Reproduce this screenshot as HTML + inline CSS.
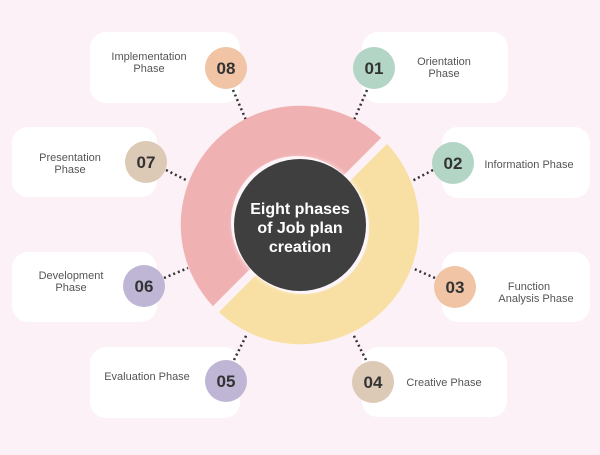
<!DOCTYPE html>
<html><head><meta charset="utf-8"><style>
body{margin:0;width:600px;height:450px;background:#fcf1f6;overflow:hidden;font-family:"Liberation Sans",sans-serif;}
</style></head><body>
<svg width="600" height="450" viewBox="0 0 600 450" xmlns="http://www.w3.org/2000/svg">
<defs><filter id="sh" x="-20%" y="-20%" width="140%" height="140%"><feGaussianBlur stdDeviation="2"/></filter></defs>
<g fill="#ffffff">
<rect x="90" y="32" width="150" height="71" rx="16"/>
<rect x="12" y="127" width="145" height="70" rx="16"/>
<rect x="12" y="252" width="145" height="70" rx="16"/>
<rect x="90" y="347" width="150" height="71" rx="16"/>
<rect x="362" y="32" width="146" height="71" rx="16"/>
<rect x="442" y="127" width="148" height="71" rx="16"/>
<rect x="442" y="252" width="148" height="70" rx="16"/>
<rect x="362" y="347" width="145" height="70" rx="16"/>
</g>
<g stroke="#333" stroke-width="2.5" stroke-dasharray="2 3" fill="none">
<line x1="233" y1="90" x2="246" y2="120"/>
<line x1="367" y1="90" x2="354" y2="120"/>
<line x1="166" y1="170" x2="188" y2="181"/>
<line x1="433" y1="170" x2="412" y2="181"/>
<line x1="164" y1="278" x2="188" y2="268"/>
<line x1="435" y1="278" x2="412" y2="268"/>
<line x1="234" y1="360" x2="247" y2="334"/>
<line x1="366" y1="360" x2="353" y2="334"/>
</g>
<path transform="translate(-3,-3)" fill="#f0b1b3" d="M384.1 140.9 A119 119 0 0 0 215.9 309.1 L253.3 271.7 A66 66 0 0 1 346.7 178.3 Z"/>
<path transform="translate(3,3)" fill="#f8e0a4" d="M215.9 309.1 A119 119 0 0 0 384.1 140.9 L346.7 178.3 A66 66 0 0 1 253.3 271.7 Z"/>
<circle cx="300" cy="225" r="68" fill="#ffffff" opacity="0.5" filter="url(#sh)"/>
<circle cx="300" cy="225" r="66" fill="#3f3f3f"/>
<g fill="#fff" font-weight="bold" font-size="16" text-anchor="middle">
<text x="300" y="214">Eight phases</text>
<text x="300" y="233">of Job plan</text>
<text x="300" y="252">creation</text>
</g>
<circle cx="226" cy="68" r="21" fill="#f0c4a4"/>
<circle cx="146" cy="162" r="21" fill="#dcc9b6"/>
<circle cx="144" cy="286" r="21" fill="#bfb6d6"/>
<circle cx="226" cy="381" r="21" fill="#bfb6d6"/>
<circle cx="374" cy="68" r="21" fill="#b3d5c5"/>
<circle cx="453" cy="163" r="21" fill="#b3d5c5"/>
<circle cx="455" cy="287" r="21" fill="#f0c4a4"/>
<circle cx="373" cy="382" r="21" fill="#dcc9b6"/>
<g fill="#333" font-weight="bold" font-size="17" text-anchor="middle">
<text x="226" y="74">08</text>
<text x="146" y="168">07</text>
<text x="144" y="292">06</text>
<text x="226" y="387">05</text>
<text x="374" y="74">01</text>
<text x="453" y="169">02</text>
<text x="455" y="293">03</text>
<text x="373" y="388">04</text>
</g>
<g fill="#555" font-size="11" text-anchor="middle">
<text x="149" y="60">Implementation</text><text x="149" y="72">Phase</text>
<text x="70" y="161">Presentation</text><text x="70" y="173">Phase</text>
<text x="71" y="279">Development</text><text x="71" y="291">Phase</text>
<text x="147" y="380">Evaluation Phase</text>
<text x="444" y="65">Orientation</text><text x="444" y="77">Phase</text>
<text x="529" y="168">Information Phase</text>
<text x="529" y="290">Function</text><text x="536" y="302">Analysis Phase</text>
<text x="444" y="386">Creative Phase</text>
</g>
</svg>
</body></html>
